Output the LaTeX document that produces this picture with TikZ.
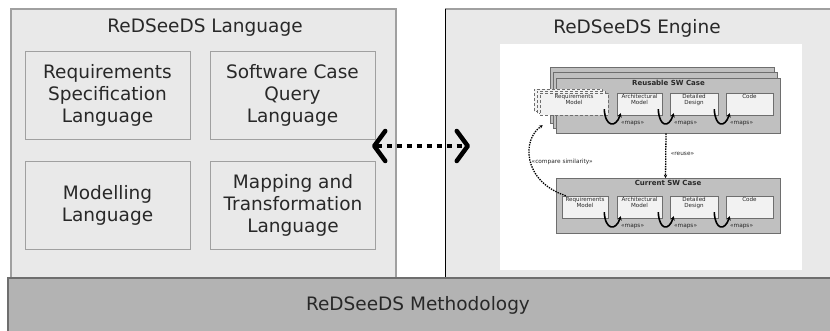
\documentclass[tikz,border=0pt]{standalone}
\usepackage{fontspec}
\setmainfont{DejaVu Sans}
\usepackage{tikz}
\usetikzlibrary{arrows.meta,positioning}
\definecolor{rdspanel}{RGB}{233,233,233}
\definecolor{rdsbar}{RGB}{179,179,179}
\definecolor{rdsedge}{RGB}{160,160,160}
\definecolor{rdsdark}{RGB}{110,110,110}
\definecolor{rdscase}{RGB}{192,192,192}
\definecolor{rdssub}{RGB}{242,242,242}
\definecolor{rdstext}{RGB}{40,40,40}

\begin{document}
\begin{tikzpicture}[x=1pt, y=1pt,
    panel/.style={draw=rdsedge, fill=rdspanel, line width=1.2pt},
    title/.style={font=\fontsize{18.5}{22}\selectfont, text=rdstext, inner sep=0pt},
    langbox/.style={draw=rdsedge, fill=rdspanel, line width=0.9pt, minimum width=165pt, minimum height=88pt, inner sep=0pt, font=\fontsize{18.5}{22}\selectfont, align=center, text=rdstext},
    casebox/.style={draw=rdsdark, fill=rdscase, line width=0.8pt, minimum width=224pt, minimum height=55pt, inner sep=0pt},
    subbox/.style={draw=rdsdark, fill=rdssub, line width=0.5pt, minimum height=22pt, inner sep=0pt, font=\fontsize{5.6}{6.4}\selectfont, align=center, text=rdstext},
    tiny/.style={font=\fontsize{5.8}{6.4}\selectfont, inner sep=0.5pt, text=rdstext},
    casetitle/.style={font=\fontsize{7}{8}\selectfont\bfseries, inner sep=0.5pt, text=rdstext},
    maps/.style={-{Stealth[length=4pt, width=4.5pt]}, line width=1.6pt},
    link/.style={-{Stealth[length=3.5pt, width=3.5pt]}, line width=1.3pt, dash pattern=on 1.4pt off 1.1pt},
    bothway/.style={{Straight Barb[length=11pt, width=30pt, round]}-{Straight Barb[length=11pt, width=30pt, round]}, line width=4.5pt, dash pattern=on 5pt off 5pt}
]
    \useasboundingbox (0,0) rectangle (830,331);
    \fill[white] (0,0) rectangle (830,331);

    % panels and base bar
    \draw[panel] (11,53) rectangle (396,322);
    \fill[rdspanel] (445,53) rectangle (831,322);
    \draw[rdsedge, line width=1.2pt] (445,322) -- (831,322);
    \draw[black, line width=1pt] (445,53) -- (445,322);
    \fill[rdsbar] (8,0) rectangle (831,53);
    \draw[rdsdark, line width=1.2pt] (8,0) -- (8,53) -- (831,53);

    \node[title] (langt) at (205,303) {ReDSeeDS Language};
    \node[title] (engt) at (637,303) {ReDSeeDS Engine};
    \node[title] (metht) at (418,26) {ReDSeeDS Methodology};

    \node[langbox] (rsl) at (107.5,236) {Requirements\\Specification\\Language};
    \node[langbox] (scql) at (292.5,236) {Software Case\\Query\\Language};
    \node[langbox] (ml) at (107.5,126) {Modelling\\Language};
    \node[langbox] (mtl) at (293,126) {Mapping and\\Transformation\\Language};

    \coordinate (arrL) at (372,185);
    \coordinate (arrR) at (470,185);
    \draw[bothway] (arrL) -- (arrR);

    % engine picture
    \fill[white] (500,61) rectangle (802,287);

    \draw[rdsdark, fill=rdscase, line width=0.8pt] (550,208) rectangle (774,264);
    \draw[rdsdark, fill=rdscase, line width=0.8pt] (553.5,203) rectangle (777,259);
    \node[casebox] (reuC) at (668.5,225.5) {};
    \node[casetitle, below=1.5pt of reuC.north] (reuT) {Reusable SW Case};

    \draw[rdsdark, fill=rdssub, densely dashed, line width=0.5pt] (534,220) rectangle (602,242);
    \draw[rdsdark, fill=rdssub, densely dashed, line width=0.5pt] (537,218) rectangle (605,240);
    \node[subbox, densely dashed, minimum width=68pt] (rR) at (574,227) {Requirements\\Model\\[3pt]};
    \node[subbox, minimum width=45pt] (aR) at (639.5,227) {Architectural\\Model\\[3pt]};
    \node[subbox, minimum width=48pt] (dR) at (694,227) {Detailed\\Design\\[3pt]};
    \node[subbox, minimum width=47pt] (cdR) at (749.5,227) {Code\\[9pt]};

    \node[casebox] (curC) at (668,125) {};
    \node[casetitle, below=1.5pt of curC.north] (curT) {Current SW Case};
    \node[subbox, minimum width=46pt] (rC) at (585,124) {Requirements\\Model\\[3pt]};
    \node[subbox, minimum width=45pt] (aC) at (639.5,124) {Architectural\\Model\\[3pt]};
    \node[subbox, minimum width=48pt] (dC) at (694,124) {Detailed\\Design\\[3pt]};
    \node[subbox, minimum width=47pt] (cdC) at (749.5,124) {Code\\[9pt]};

    \foreach \a/\b in {rR/aR, aR/dR, dR/cdR, rC/aC, aC/dC, dC/cdC}{
        \draw[maps] ([shift={(-4,6)}]\a.south east) .. controls +(1,-18) and +(-5,-15) .. ([shift={(4,2)}]\b.south west)
            node[tiny, anchor=north west, xshift=-1pt, yshift=-6.5pt] {«maps»};
    }

    \draw[link] ([xshift=-2.5pt]reuC.south) -- ([xshift=-2.5pt]curC.north)
        node[tiny, pos=0.45, anchor=west, xshift=4pt] (reuL) {«reuse»};
    \draw[link] ([xshift=4pt]rC.north west) .. controls (522,150) and (522,192) .. ([shift={(3,-10)}]rR.south west);
    \node[tiny, anchor=west] (cmpL) at (531,169) {«compare similarity»};
\end{tikzpicture}
\end{document}
